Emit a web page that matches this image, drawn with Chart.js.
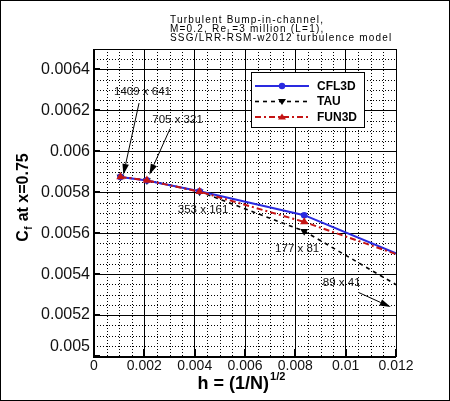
<!DOCTYPE html>
<html>
<head>
<meta charset="utf-8">
<script src="https://cdn.jsdelivr.net/npm/chart.js@4"></script>
<style>
  html, body { margin: 0; padding: 0; background: #fff; }
  #wrap { width: 450px; height: 401px; }
</style>
</head>
<body>
<div id="wrap"><canvas id="c" width="450" height="401"></canvas></div>
<script>
// ---- data ----
const gridNames = ['1409 x 641', '705 x 321', '353 x 161', '177 x 81', '89 x 41'];
const hValues = [0.001052, 0.002102, 0.004195, 0.008352, 0.016554];
const cfl3d = [0.005875, 0.005858, 0.005805, 0.005688, 0.005268];
const tau   = [0.005875, 0.005858, 0.005803, 0.005610, 0.005023];
const fun3d = [0.005875, 0.005858, 0.005803, 0.005655, 0.005302];
const seriesNames = ['CFL3D', 'TAU', 'FUN3D'];
const titleLines = ['Turbulent Bump-in-channel,', 'M=0.2, Re', 'L', '=3 million (L=1),', 'SSG/LRR-RSM-w2012 turbulence model'];

// annotation placement (data units)
const annText   = gridNames;
const annLabelX = [0.001928, 0.00332, 0.004334, 0.008072, 0.009841];
const annLabelY = [0.006293, 0.0061546, 0.0057156, 0.0055254, 0.0053576];
const arrowFrom = [[0.001789, 0.0062356], [0.003022, 0.0061107], null, null, [0.010509, 0.0053107]];
const arrowTo   = [[0.001165, 0.005885], [0.002199, 0.005885], null, null, [0.01179, 0.005239]];

const BLUE = '#2a2ae0', RED = '#c41414', BLACK = '#000';
const FONT = '"Liberation Sans", Arial, Helvetica, sans-serif';

function pts(ys) { return hValues.map((h, i) => ({ x: h, y: ys[i] })); }

function fmt(v) { return String(Number(v.toFixed(5))); }

const decor = {
  id: 'decor',
  beforeDatasetsDraw(chart) {
    const { ctx, chartArea: a, scales: { x, y } } = chart;
    ctx.save();
    ctx.strokeStyle = '#000';
    ctx.lineWidth = 1;
    ctx.setLineDash([1, 2]);
    // minor dotted grid
    for (let k = 0; k <= 24; k++) {
      if (k % 4 === 0) continue;
      const px = Math.round(x.getPixelForValue(k * 0.0005)) + 0.5;
      ctx.beginPath(); ctx.moveTo(px, a.top); ctx.lineTo(px, a.bottom); ctx.stroke();
    }
    for (let k = 0; k <= 30; k++) {
      if (k % 4 === 0) continue;
      const py = Math.round(y.getPixelForValue(0.005 + k * 0.00005)) + 0.5;
      ctx.beginPath(); ctx.moveTo(a.left, py); ctx.lineTo(a.right, py); ctx.stroke();
    }
    ctx.setLineDash([]);
    ctx.restore();
  },
  afterDatasetsDraw(chart) {
    const { ctx, chartArea: a, scales: { x, y } } = chart;
    ctx.save();
    // plot frame
    ctx.strokeStyle = '#000';
    ctx.lineWidth = 1;
    ctx.strokeRect(Math.round(a.left) + 0.5, Math.round(a.top) + 0.5, Math.round(a.right - a.left), Math.round(a.bottom - a.top));
    ctx.lineWidth = 2;
    ctx.beginPath();
    ctx.moveTo(a.left, a.top); ctx.lineTo(a.left, a.bottom + 1); ctx.lineTo(a.right, a.bottom + 1);
    ctx.stroke();
    // inward major ticks
    y.ticks.forEach(t => {
      const py = Math.round(y.getPixelForValue(t.value));
      ctx.beginPath(); ctx.moveTo(a.left, py); ctx.lineTo(a.left + 6, py); ctx.stroke();
    });
    x.ticks.forEach(t => {
      const px = Math.round(x.getPixelForValue(t.value));
      ctx.beginPath(); ctx.moveTo(px, a.bottom); ctx.lineTo(px, a.bottom - 7); ctx.stroke();
    });

    // annotations
    ctx.fillStyle = '#111';
    ctx.font = '11.5px ' + FONT;
    ctx.textAlign = 'center';
    ctx.textBaseline = 'middle';
    annText.forEach((t, i) => {
      ctx.fillText(t, x.getPixelForValue(annLabelX[i]), y.getPixelForValue(annLabelY[i]));
    });
    ctx.strokeStyle = '#000';
    ctx.fillStyle = '#000';
    ctx.lineWidth = 1;
    arrowFrom.forEach((f, i) => {
      if (!f) return;
      const x0 = x.getPixelForValue(f[0]), y0 = y.getPixelForValue(f[1]);
      const x1 = x.getPixelForValue(arrowTo[i][0]), y1 = y.getPixelForValue(arrowTo[i][1]);
      const ang = Math.atan2(y1 - y0, x1 - x0);
      const L = 11, W = 3.3;
      const bx = x1 - L * Math.cos(ang), by = y1 - L * Math.sin(ang);
      ctx.beginPath(); ctx.moveTo(x0, y0); ctx.lineTo(bx, by); ctx.stroke();
      ctx.beginPath();
      ctx.moveTo(x1, y1);
      ctx.lineTo(bx + W * Math.sin(ang), by - W * Math.cos(ang));
      ctx.lineTo(bx - W * Math.sin(ang), by + W * Math.cos(ang));
      ctx.closePath(); ctx.fill();
    });

    // legend
    const lx = 251, ly = 72, lw = 113, lh = 55;
    ctx.fillStyle = '#fff';
    ctx.fillRect(lx, ly, lw, lh);
    ctx.strokeStyle = '#000';
    ctx.lineWidth = 1;
    ctx.strokeRect(lx + 0.5, ly + 0.5, lw, lh);
    const rows = [86, 101.5, 117];
    chart.data.datasets.forEach((ds, i) => {
      const idx = seriesNames.indexOf(ds.label);
      const ry = rows[idx];
      ctx.save();
      ctx.strokeStyle = ds.borderColor;
      ctx.lineWidth = ds.borderWidth;
      ctx.setLineDash(ds.borderDash || []);
      ctx.beginPath(); ctx.moveTo(255, ry); ctx.lineTo(309, ry); ctx.stroke();
      ctx.setLineDash([]);
      ctx.fillStyle = ds.pointBackgroundColor;
      const mx = 282, r = 4;
      ctx.beginPath();
      if (ds.pointStyle === 'circle') {
        ctx.arc(mx, ry, 3.2, 0, Math.PI * 2);
      } else if (ds.pointRotation === 180) {
        ctx.moveTo(mx - r, ry - r * 0.6); ctx.lineTo(mx + r, ry - r * 0.6); ctx.lineTo(mx, ry + r * 0.9);
      } else {
        ctx.moveTo(mx - r, ry + r * 0.6); ctx.lineTo(mx + r, ry + r * 0.6); ctx.lineTo(mx, ry - r * 0.9);
      }
      ctx.closePath(); ctx.fill();
      ctx.fillStyle = '#000';
      ctx.font = 'bold 12px ' + FONT;
      ctx.textAlign = 'left';
      ctx.textBaseline = 'middle';
      ctx.fillText(ds.label, 317, ry + 0.5);
      ctx.restore();
    });
    ctx.restore();
  },
  afterDraw(chart) {
    const { ctx, chartArea: a } = chart;
    ctx.save();
    // title
    ctx.fillStyle = '#000';
    ctx.textAlign = 'left';
    ctx.textBaseline = 'alphabetic';
    ctx.letterSpacing = '1.2px';
    ctx.font = '10px ' + FONT;
    ctx.fillText(titleLines[0], 170, 22.5);
    let tx = 170;
    ctx.fillText(titleLines[1], tx, 31.8);
    tx += ctx.measureText(titleLines[1]).width;
    ctx.font = '7px ' + FONT;
    ctx.fillText(titleLines[2], tx, 34);
    tx += ctx.measureText(titleLines[2]).width;
    ctx.font = '10px ' + FONT;
    ctx.fillText(titleLines[3], tx, 31.8);
    ctx.fillText(titleLines[4], 170, 41);
    ctx.letterSpacing = '0px';

    // x title
    ctx.font = 'bold 18px ' + FONT;
    const xt1 = 'h = (1/N)', xt2 = '1/2';
    const w1 = ctx.measureText(xt1).width;
    ctx.font = 'bold 11px ' + FONT;
    const w2 = ctx.measureText(xt2).width;
    let sx = 241 - (w1 + w2) / 2;
    ctx.font = 'bold 18px ' + FONT;
    ctx.fillText(xt1, sx, 389);
    ctx.font = 'bold 11px ' + FONT;
    ctx.fillText(xt2, sx + w1 + 1, 380);

    // y title
    ctx.save();
    ctx.translate(28, 197.5);
    ctx.rotate(-Math.PI / 2);
    ctx.font = 'bold 16px ' + FONT;
    const p1 = 'C', p3 = ' at x=0.75';
    const a1 = ctx.measureText(p1).width, a3 = ctx.measureText(p3).width;
    ctx.font = 'bold 10px ' + FONT;
    const a2 = ctx.measureText('f').width + 1;
    let yx = -(a1 + a2 + a3) / 2;
    ctx.font = 'bold 16px ' + FONT;
    ctx.fillText(p1, yx, 0);
    ctx.font = 'bold 10px ' + FONT;
    ctx.fillText('f', yx + a1 + 0.5, 4);
    ctx.font = 'bold 16px ' + FONT;
    ctx.fillText(p3, yx + a1 + a2, 0);
    ctx.restore();

    // outer frame
    ctx.strokeStyle = '#000';
    ctx.lineWidth = 1;
    ctx.strokeRect(0.5, 0.5, chart.width - 1, chart.height - 1);
    ctx.restore();
  }
};

const chart = new Chart(document.getElementById('c'), {
  type: 'line',
  data: {
    datasets: [
      {
        label: seriesNames[0], data: pts(cfl3d), order: 2,
        borderColor: BLUE, backgroundColor: BLUE, borderWidth: 2,
        pointStyle: 'circle', pointRadius: 3.3, pointBackgroundColor: BLUE, pointBorderWidth: 0,
        fill: false, tension: 0, clip: 0
      },
      {
        label: seriesNames[1], data: pts(tau), order: 3,
        borderColor: BLACK, backgroundColor: BLACK, borderWidth: 1.6, borderDash: [4, 4],
        pointStyle: 'triangle', pointRotation: 180, pointRadius: 4.5, pointBackgroundColor: BLACK, pointBorderWidth: 0,
        fill: false, tension: 0, clip: 0
      },
      {
        label: seriesNames[2], data: pts(fun3d), order: 1,
        borderColor: RED, backgroundColor: RED, borderWidth: 2, borderDash: [6, 3, 2, 3],
        pointStyle: 'triangle', pointRotation: 0, pointRadius: 4.8, pointBackgroundColor: RED, pointBorderWidth: 0,
        fill: false, tension: 0, clip: 0
      }
    ]
  },
  options: {
    responsive: false,
    animation: false,
    devicePixelRatio: 1,
    layout: { padding: { top: 49, right: 54, left: 0, bottom: 0 } },
    plugins: { legend: { display: false }, tooltip: { enabled: false }, title: { display: false } },
    scales: {
      x: {
        type: 'linear', min: 0, max: 0.012,
        afterFit: s => { s.height = 45; },
        ticks: {
          stepSize: 0.002, includeBounds: false, padding: 2, maxRotation: 0, autoSkip: false,
          color: '#111', font: { family: FONT, size: 14 },
          callback: v => fmt(v)
        },
        grid: { color: '#000', lineWidth: 1, drawTicks: false },
        border: { display: false }
      },
      y: {
        type: 'linear', min: 0.005, max: 0.0065,
        afterFit: s => { s.width = 94; },
        ticks: {
          stepSize: 0.0002, includeBounds: false, padding: 4, autoSkip: false,
          color: '#111', font: { family: FONT, size: 16 },
          callback: v => Math.abs(v - 0.005) < 1e-9 ? ['0.005', ''] : fmt(v)
        },
        grid: { color: '#000', lineWidth: 1, drawTicks: false },
        border: { display: false }
      }
    }
  },
  plugins: [decor]
});
</script>
</body>
</html>
